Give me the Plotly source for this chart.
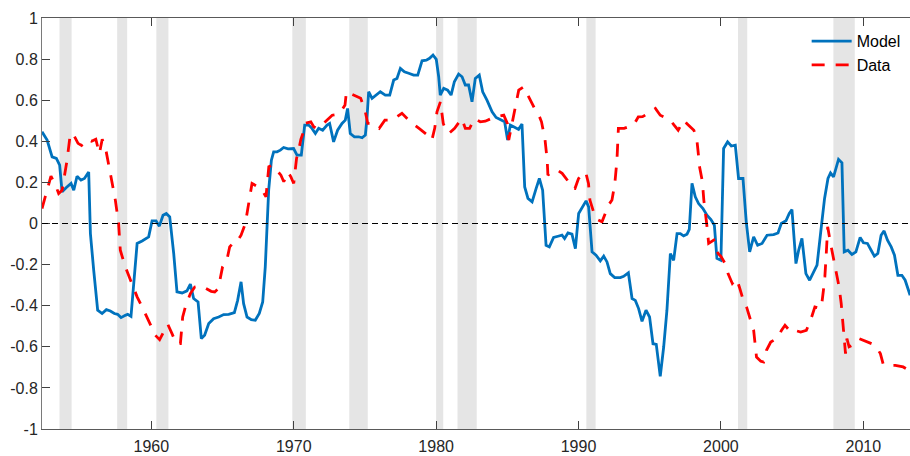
import plotly.graph_objects as go

# NBER recession periods (fractional years)
rec_start = [1953.55, 1957.6, 1960.35, 1969.9, 1973.9, 1980.0, 1981.5, 1990.55, 2001.2, 2007.9]
rec_end = [1954.4, 1958.3, 1961.2, 1970.85, 1975.2, 1980.5, 1982.85, 1991.2, 2001.85, 2009.4]

# Model-implied series
model_years = [
    1952.32, 1952.68, 1953.03, 1953.33, 1953.56, 1953.73, 1954.03, 1954.36, 1954.55, 1954.78,
    1955.06, 1955.30, 1955.60, 1955.72, 1955.95, 1956.23, 1956.54, 1956.84, 1957.12, 1957.40,
    1957.63, 1957.87, 1958.17, 1958.34, 1958.57, 1959.00, 1959.35, 1959.65, 1959.81, 1960.05,
    1960.33, 1960.56, 1960.82, 1961.05, 1961.29, 1961.57, 1961.80, 1962.16, 1962.50, 1962.74,
    1962.97, 1963.28, 1963.51, 1963.74, 1964.03, 1964.37, 1964.73, 1965.08, 1965.43, 1965.83,
    1966.06, 1966.30, 1966.48, 1966.72, 1967.02, 1967.30, 1967.58, 1967.82, 1968.00, 1968.24,
    1968.43, 1968.59, 1968.83, 1969.06, 1969.29, 1969.60, 1969.99, 1970.23, 1970.53, 1970.77,
    1971.05, 1971.28, 1971.52, 1971.75, 1972.03, 1972.34, 1972.52, 1972.80, 1973.08, 1973.39,
    1973.62, 1973.78, 1973.97, 1974.26, 1974.56, 1974.80, 1975.03, 1975.15, 1975.26, 1975.50,
    1975.80, 1976.08, 1976.43, 1976.74, 1977.02, 1977.25, 1977.49, 1977.77, 1978.07, 1978.42,
    1978.71, 1979.01, 1979.31, 1979.54, 1979.78, 1980.01, 1980.18, 1980.29, 1980.53, 1980.81,
    1981.05, 1981.28, 1981.58, 1981.82, 1982.05, 1982.28, 1982.52, 1982.75, 1983.03, 1983.27,
    1983.57, 1983.93, 1984.21, 1984.58, 1984.81, 1985.02, 1985.21, 1985.51, 1985.79, 1986.03,
    1986.22, 1986.45, 1986.74, 1987.02, 1987.25, 1987.48, 1987.72, 1987.95, 1988.25, 1988.56,
    1988.84, 1989.02, 1989.26, 1989.54, 1989.78, 1990.01, 1990.29, 1990.53, 1990.71, 1990.95,
    1991.23, 1991.53, 1991.77, 1992.00, 1992.23, 1992.54, 1992.94, 1993.17, 1993.50, 1993.76,
    1993.99, 1994.22, 1994.46, 1994.74, 1994.99, 1995.23, 1995.46, 1995.74, 1995.98, 1996.21,
    1996.45, 1996.68, 1996.92, 1997.15, 1997.38, 1997.62, 1997.78, 1997.97, 1998.20, 1998.43,
    1998.74, 1999.02, 1999.30, 1999.54, 1999.72, 2000.00, 2000.19, 2000.47, 2000.73, 2001.01,
    2001.24, 2001.55, 2001.78, 2002.02, 2002.30, 2002.58, 2002.89, 2003.24, 2003.70, 2004.01,
    2004.24, 2004.57, 2004.80, 2004.99, 2005.27, 2005.46, 2005.69, 2005.97, 2006.23, 2006.51,
    2006.75, 2007.05, 2007.28, 2007.52, 2007.70, 2007.91, 2008.08, 2008.26, 2008.50, 2008.66,
    2008.92, 2009.20, 2009.48, 2009.78, 2010.01, 2010.29, 2010.55, 2010.78, 2011.02, 2011.25,
    2011.46, 2011.70, 2011.96, 2012.19, 2012.43, 2012.71, 2012.94, 2013.29,
]
model_values = [
    0.446, 0.406, 0.324, 0.317, 0.284, 0.154, 0.175, 0.195, 0.162, 0.230,
    0.211, 0.219, 0.251, -0.049, -0.227, -0.422, -0.438, -0.419, -0.426, -0.438,
    -0.442, -0.458, -0.447, -0.442, -0.452, -0.097, -0.085, -0.073, -0.065, 0.013,
    0.013, -0.013, 0.040, 0.049, 0.032, -0.146, -0.333, -0.338, -0.328, -0.295,
    -0.365, -0.382, -0.560, -0.544, -0.487, -0.463, -0.455, -0.443, -0.442, -0.434,
    -0.374, -0.284, -0.390, -0.455, -0.468, -0.471, -0.438, -0.382, -0.211, 0.162,
    0.308, 0.349, 0.349, 0.357, 0.370, 0.363, 0.365, 0.333, 0.333, 0.479,
    0.479, 0.463, 0.438, 0.463, 0.454, 0.479, 0.487, 0.397, 0.454, 0.487,
    0.503, 0.560, 0.438, 0.422, 0.422, 0.417, 0.430, 0.519, 0.641, 0.609,
    0.625, 0.641, 0.625, 0.625, 0.698, 0.706, 0.755, 0.738, 0.731, 0.722,
    0.722, 0.792, 0.795, 0.804, 0.820, 0.799, 0.714, 0.625, 0.658, 0.649,
    0.625, 0.690, 0.727, 0.714, 0.674, 0.674, 0.592, 0.706, 0.722, 0.641,
    0.600, 0.544, 0.516, 0.503, 0.495, 0.406, 0.479, 0.468, 0.458, 0.484,
    0.178, 0.122, 0.105, 0.170, 0.219, 0.162, -0.106, -0.114, -0.068, -0.062,
    -0.057, -0.073, -0.046, -0.052, -0.122, 0.049, 0.081, 0.110, 0.081, -0.138,
    -0.154, -0.182, -0.159, -0.187, -0.244, -0.263, -0.263, -0.257, -0.240, -0.365,
    -0.374, -0.414, -0.476, -0.422, -0.455, -0.585, -0.588, -0.744, -0.601, -0.422,
    -0.146, -0.179, -0.049, -0.049, -0.060, -0.052, -0.029, 0.195, 0.130, 0.097,
    0.073, 0.040, 0.019, -0.008, -0.170, -0.179, 0.365, 0.397, 0.377, 0.381,
    0.219, 0.219, 0.008, -0.138, -0.065, -0.106, -0.097, -0.057, -0.054, -0.046,
    0.000, 0.013, 0.049, 0.068, -0.195, -0.130, -0.073, -0.244, -0.276, -0.236,
    -0.203, -0.017, 0.122, 0.219, 0.246, 0.227, 0.268, 0.312, 0.295, -0.138,
    -0.130, -0.151, -0.138, -0.068, -0.094, -0.097, -0.130, -0.159, -0.146, -0.057,
    -0.036, -0.081, -0.114, -0.154, -0.252, -0.252, -0.276, -0.349,
]

# Observed series
data_years = [
    1952.32, 1952.68, 1952.95, 1953.25, 1953.49, 1953.73, 1954.08, 1954.31, 1954.55, 1954.85,
    1955.10, 1955.50, 1955.80, 1956.10, 1956.35, 1956.55, 1956.80, 1957.12, 1957.47, 1957.70,
    1957.82, 1958.17, 1958.53, 1959.00, 1959.46, 1959.81, 1960.28, 1960.58, 1960.90, 1961.15,
    1961.45, 1961.75, 1962.04, 1962.20, 1962.39, 1962.74, 1963.05, 1963.40, 1963.80, 1964.20,
    1964.45, 1964.70, 1965.00, 1965.30, 1965.50, 1965.80, 1966.00, 1966.30, 1966.60, 1966.75,
    1966.90, 1967.07, 1967.50, 1967.80, 1968.05, 1968.15, 1968.25, 1968.50, 1968.80, 1969.10,
    1969.30, 1969.60, 1969.80, 1970.00, 1970.20, 1970.35, 1970.50, 1970.70, 1970.80, 1971.20,
    1971.40, 1971.60, 1971.90, 1972.10, 1972.70, 1973.00, 1973.30, 1973.60, 1973.70, 1974.20,
    1974.70, 1975.00, 1975.20, 1975.50, 1975.60, 1976.00, 1976.40, 1976.90, 1977.30, 1977.60,
    1978.20, 1978.50, 1978.80, 1979.40, 1979.70, 1979.90, 1980.06, 1980.30, 1980.40, 1980.50,
    1980.70, 1980.90, 1981.30, 1981.55, 1981.80, 1982.05, 1982.35, 1982.70, 1983.10, 1983.45,
    1984.15, 1984.75, 1985.00, 1985.10, 1985.30, 1985.45, 1985.70, 1985.80, 1986.15, 1986.60,
    1986.97, 1987.20, 1987.40, 1987.65, 1987.80, 1987.85, 1988.10, 1988.50, 1988.85, 1989.30,
    1989.60, 1989.75, 1990.00, 1990.50, 1990.70, 1990.80, 1991.00, 1991.20, 1991.65, 1991.90,
    1992.10, 1992.35, 1992.55, 1992.70, 1992.80, 1993.20, 1993.50, 1993.87, 1994.20, 1994.50,
    1994.90, 1995.40, 1995.74, 1996.45, 1996.70, 1997.00, 1997.40, 1997.60, 1998.10, 1998.30,
    1998.40, 1998.50, 1998.70, 1998.80, 1999.00, 1999.14, 1999.50, 1999.70, 1999.80, 2000.00,
    2000.30, 2000.50, 2000.80, 2001.10, 2001.30, 2001.50, 2001.80, 2002.05, 2002.30, 2002.40,
    2002.50, 2002.80, 2003.00, 2003.20, 2003.50, 2003.90, 2004.10, 2004.25, 2004.50, 2004.90,
    2005.20, 2005.60, 2006.00, 2006.30, 2006.60, 2007.00, 2007.10, 2007.20, 2007.30, 2007.40,
    2007.50, 2007.70, 2007.90, 2008.10, 2008.30, 2008.45, 2008.60, 2008.75, 2008.85, 2009.00,
    2009.20, 2009.40, 2009.70, 2010.00, 2010.20, 2010.60, 2010.90, 2011.20, 2011.40, 2011.70,
    2012.25, 2012.80, 2013.00, 2013.29,
]
data_values = [
    0.073, 0.162, 0.230, 0.190, 0.146, 0.162, 0.308, 0.438, 0.430, 0.390,
    0.380, 0.410, 0.400, 0.410, 0.340, 0.410, 0.360, 0.244, 0.114, 0.000,
    -0.130, -0.211, -0.276, -0.357, -0.422, -0.471, -0.544, -0.565, -0.520, -0.490,
    -0.536, -0.585, -0.585, -0.455, -0.406, -0.341, -0.309, -0.305, -0.315, -0.330,
    -0.333, -0.317, -0.211, -0.179, -0.114, -0.090, -0.090, -0.057, 0.000, 0.070,
    0.130, 0.195, 0.178, 0.160, 0.130, 0.200, 0.276, 0.284, 0.260, 0.235,
    0.203, 0.250, 0.227, 0.195, 0.318, 0.357, 0.410, 0.450, 0.487, 0.495,
    0.471, 0.463, 0.480, 0.487, 0.527, 0.530, 0.544, 0.576, 0.641, 0.625,
    0.609, 0.552, 0.487, 0.487, 0.479, 0.463, 0.503, 0.503, 0.520, 0.536,
    0.495, 0.480, 0.463, 0.430, 0.406, 0.463, 0.544, 0.592, 0.527, 0.487,
    0.450, 0.438, 0.463, 0.490, 0.511, 0.463, 0.463, 0.511, 0.495, 0.498,
    0.519, 0.527, 0.487, 0.406, 0.471, 0.527, 0.609, 0.649, 0.665, 0.600,
    0.552, 0.530, 0.495, 0.406, 0.308, 0.235, 0.251, 0.260, 0.244, 0.203,
    0.170, 0.170, 0.219, 0.251, 0.195, 0.114, 0.073, 0.024, 0.008, 0.050,
    0.089, 0.114, 0.195, 0.308, 0.463, 0.463, 0.470, 0.479, 0.519, 0.520,
    0.536, 0.560, 0.527, 0.503, 0.480, 0.454, 0.503, 0.487, 0.454, 0.414,
    0.349, 0.276, 0.203, 0.114, 0.000, -0.097, -0.081, -0.114, -0.146, -0.160,
    -0.195, -0.244, -0.292, -0.268, -0.310, -0.357, -0.406, -0.463, -0.520, -0.585,
    -0.650, -0.670, -0.674, -0.617, -0.577, -0.560, -0.544, -0.520, -0.495, -0.528,
    -0.520, -0.528, -0.520, -0.471, -0.406, -0.414, -0.382, -0.325, -0.260, -0.146,
    -0.016, -0.097, -0.163, -0.228, -0.309, -0.390, -0.520, -0.633, -0.560, -0.600,
    -0.593, -0.577, -0.560, -0.568, -0.577, -0.585, -0.600, -0.633, -0.685, -0.690,
    -0.690, -0.698, -0.706, -0.720,
]

y_ticks = [-1, -0.8, -0.6, -0.4, -0.2, 0, 0.2, 0.4, 0.6, 0.8, 1]
y_tick_labels = ["-1", "-0.8", "-0.6", "-0.4", "-0.2", "0", "0.2", "0.4", "0.6", "0.8", "1"]
x_ticks = [1960, 1970, 1980, 1990, 2000, 2010]
x_range = [1952.32, 2013.28]

fig = go.Figure()

fig.add_trace(go.Scatter(
    x=model_years, y=model_values, mode="lines", name="Model",
    line=dict(color="#0072BD", width=2.8),
))
fig.add_trace(go.Scatter(
    x=data_years, y=data_values, mode="lines", name="Data",
    line=dict(color="#FF0000", width=2.8, dash="13px,11px"),
))

shapes = []
for s, e in zip(rec_start, rec_end):
    shapes.append(dict(
        type="rect", xref="x", yref="y", x0=s, x1=e, y0=-1, y1=1,
        fillcolor="rgb(229,229,229)", line=dict(width=0), layer="below",
    ))
shapes.append(dict(
    type="line", xref="paper", yref="y", x0=0, x1=1, y0=0, y1=0,
    line=dict(color="black", width=1, dash="6px,4px"), layer="above",
))

axis_font = dict(family="Liberation Sans, Arial, sans-serif", size=16, color="#262626")

fig.update_layout(
    width=910, height=456,
    margin=dict(l=42, r=0, t=18, b=27, autoexpand=False),
    paper_bgcolor="white", plot_bgcolor="white",
    shapes=shapes,
    showlegend=True,
    legend=dict(
        x=0.995, y=0.985, xanchor="right", yanchor="top",
        bgcolor="rgba(0,0,0,0)", borderwidth=0,
        font=dict(family="Liberation Sans, Arial, sans-serif", size=16, color="black"),
        tracegroupgap=0, itemwidth=40,
    ),
    xaxis=dict(
        range=x_range, tickmode="array", tickvals=x_ticks,
        ticks="inside", ticklen=8, tickcolor="#404040", tickwidth=1,
        showline=True, linecolor="#595959", linewidth=1, mirror="ticks",
        showgrid=False, zeroline=False, tickfont=axis_font, ticklabelstandoff=3,
    ),
    yaxis=dict(
        range=[-1, 1], tickmode="array", tickvals=y_ticks, ticktext=y_tick_labels,
        ticks="inside", ticklen=8, tickcolor="#404040", tickwidth=1,
        showline=True, linecolor="#7a7a7a", linewidth=1, mirror=False,
        showgrid=False, zeroline=False, tickfont=axis_font,
    ),
)

fig.write_html("out.html")
